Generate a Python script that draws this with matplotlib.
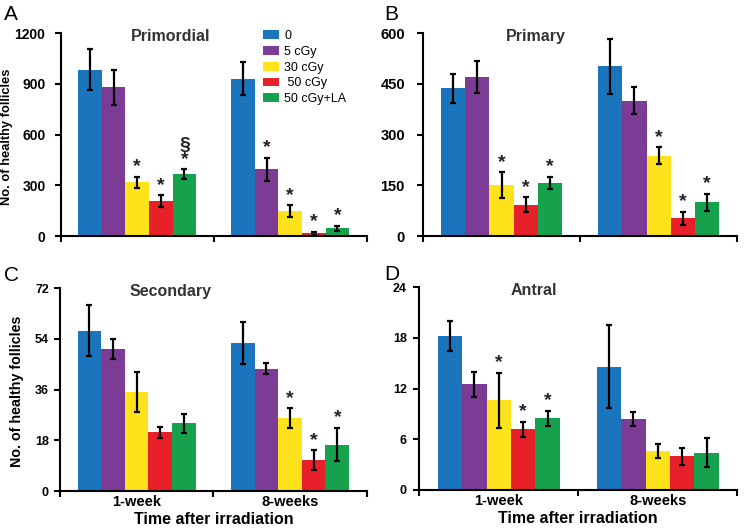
import matplotlib
matplotlib.use("Agg")
import matplotlib.pyplot as plt
import numpy as np

plt.rcParams["font.family"] = ["Liberation Sans", "DejaVu Sans"]

groups = ["1-week", "8-weeks"]
doses = ["0", "5 cGy", "30 cGy", " 50 cGy", "50 cGy+LA"]
colors = ["#1b75bc", "#7c3c96", "#fde21c", "#e8202a", "#16a24c"]

# values[dose] = [1-week, 8-weeks]
prim_mean = [[985, 932], [880, 396], [317, 148], [205, 15], [367, 45]]
prim_err = [[120, 100], [102, 68], [35, 33], [35, 10], [28, 15]]
prim_sig = [["", ""], ["", "*"], ["*", "*"], ["*", "*"], ["§\n*", "*"]]

pri_mean = [[437, 502], [470, 400], [151, 237], [92, 52], [157, 100]]
pri_err = [[42, 81], [47, 40], [38, 25], [22, 20], [19, 25]]
pri_sig = [["", ""], ["", ""], ["*", "*"], ["*", "*"], ["*", "*"]]

sec_mean = [[57, 52.5], [50.5, 43.5], [35.2, 26], [20.8, 11], [24, 16.5]]
sec_err = [[9, 7.5], [3.5, 2], [7, 3.5], [2, 3.5], [3.5, 6]]
sec_sig = [["", ""], ["", ""], ["", "*"], ["", "*"], ["", "*"]]

ant_mean = [[18.2, 14.6], [12.5, 8.4], [10.6, 4.6], [7.2, 4.0], [8.5, 4.4]]
ant_err = [[1.8, 4.9], [1.5, 0.8], [3.3, 0.8], [0.9, 1.0], [0.9, 1.7]]
ant_sig = [["", ""], ["", ""], ["*", ""], ["*", ""], ["*", ""]]

fig = plt.figure(figsize=(7.5, 5.28), dpi=100)

# letter, title, data, ymax, axes rect, ytick font size, ytick pad, ylabel x, ylabel size
panels = [
    ("A", "Primordial", prim_mean, prim_err, prim_sig, 1200, [0.081, 0.553, 0.408, 0.384], 10, 7, -0.155, 9.3),
    ("B", "Primary", pri_mean, pri_err, pri_sig, 600, [0.564, 0.553, 0.419, 0.384], 10.5, 9, None, 0),
    ("C", "Secondary", sec_mean, sec_err, sec_sig, 72, [0.080, 0.070, 0.409, 0.384], 9, 4, -0.117, 10.3),
    ("D", "Antral", ant_mean, ant_err, ant_sig, 24, [0.559, 0.072, 0.424, 0.384], 9, 5, None, 0),
]

x = np.arange(len(groups))
w = 0.154

for letter, title, mean, err, sig, ymax, rect, yfs, ypad, ylx, ylfs in panels:
    ax = fig.add_axes(rect)
    for i in range(len(doses)):
        pos = x + (i - 2) * w
        ax.bar(pos, mean[i], w, color=colors[i], label=doses[i], zorder=2)
        ax.errorbar(pos, mean[i], yerr=err[i], fmt="none", ecolor="black",
                    elinewidth=1.6, capsize=2.2, capthick=1.6, zorder=3)
        for j in range(len(groups)):
            if sig[i][j]:
                ax.annotate(sig[i][j], (pos[j], mean[i][j] + err[i][j]),
                            xytext=(0, 1), textcoords="offset points",
                            ha="center", va="bottom", fontsize=14,
                            fontweight="bold", color="#222222", linespacing=0.75)
    ax.set_xlim(-0.5, 1.5)
    ax.set_ylim(0, ymax)
    ax.set_yticks(np.linspace(0, ymax, 5))
    ax.set_yticklabels([f"{v:g}" for v in np.linspace(0, ymax, 5)],
                       fontsize=yfs, fontweight="bold")
    ax.spines["top"].set_visible(False)
    ax.spines["right"].set_visible(False)
    ax.spines["left"].set_linewidth(1.5)
    ax.spines["bottom"].set_linewidth(1.5)
    ax.tick_params(axis="y", direction="out", length=4, width=1.5, pad=ypad)
    ax.set_xticks(x)
    ax.set_xticks([-0.5, 0.5, 1.5], minor=True)
    ax.tick_params(axis="x", which="major", length=0, pad=3)
    ax.tick_params(axis="x", which="minor", direction="out", length=4, width=1.5)
    if letter in ("C", "D"):
        ax.set_xticklabels(groups, fontsize=10.5, fontweight="bold")
        ax.set_xlabel("Time after irradiation", fontsize=11.5, fontweight="bold", labelpad=2)
    else:
        ax.set_xticklabels([])
    if ylx is not None:
        ax.set_ylabel("No. of healthy follicles", fontsize=ylfs, fontweight="bold")
        ax.yaxis.set_label_coords(ylx, 0.49)
    ax.text(0.36, 0.985, title, transform=ax.transAxes, ha="center", va="center",
            fontsize=11.5, fontweight="bold", color="#333333")
    if letter == "A":
        ax.legend(loc="upper left", bbox_to_anchor=(0.645, 1.04), frameon=False,
                  fontsize=9, handlelength=1.3, handleheight=0.7,
                  handletextpad=0.4, labelspacing=0.3, borderaxespad=0)

fig.text(0.005, 0.99, "A", fontsize=15, va="top")
fig.text(0.513, 0.99, "B", fontsize=15, va="top")
fig.text(0.005, 0.497, "C", fontsize=15, va="top")
fig.text(0.513, 0.499, "D", fontsize=15, va="top")

fig.savefig("out.png", dpi=100)
